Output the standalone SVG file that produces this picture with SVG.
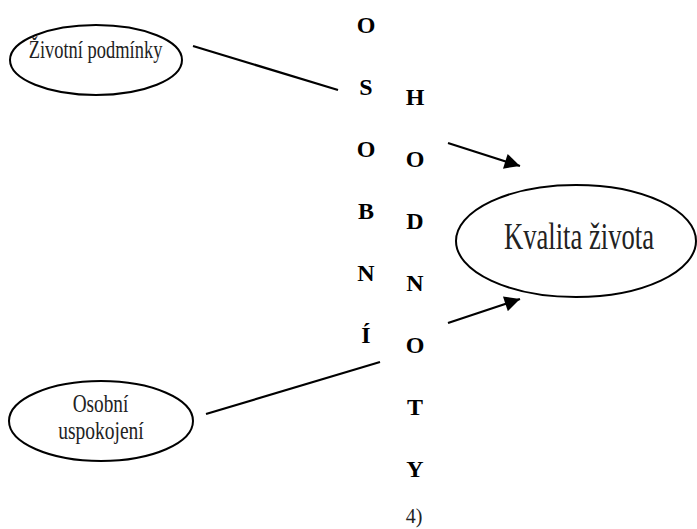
<svg xmlns="http://www.w3.org/2000/svg" width="697" height="529" viewBox="0 0 697 529">
<style>
.node ellipse{fill:#fff;stroke:#000;stroke-width:2}
.lbl{font-family:"Liberation Serif","DejaVu Serif","Noto Serif",serif;fill:#222;text-anchor:middle}
.let{font-family:"Liberation Serif","DejaVu Serif","Noto Serif",serif;font-weight:bold;font-size:24px;fill:#000;text-anchor:middle}
.num{font-family:"Liberation Serif","DejaVu Serif","Noto Serif",serif;font-size:20px;fill:#222;text-anchor:middle}
.conn line{stroke:#000;stroke-width:2.2}
</style>
<defs>
<marker id="ah" viewBox="0 0 10 10" refX="10" refY="5" markerWidth="8" markerHeight="7" markerUnits="strokeWidth" orient="auto">
<path d="M0,0 L10,5 L0,10 z" fill="#000"/>
</marker>
</defs>
<rect width="697" height="529" fill="#fff"/>
<g id="n-zivotni-podminky" class="node">
<ellipse cx="96" cy="60" rx="86" ry="35"/>
<text class="lbl" transform="translate(95.5,58) scale(0.71,1)" font-size="26">Životní podmínky</text>
</g>
<g id="n-osobni-uspokojeni" class="node">
<ellipse cx="101" cy="421" rx="92" ry="40"/>
<text class="lbl" transform="translate(100.5,412) scale(0.77,1)" font-size="25">Osobní</text>
<text class="lbl" transform="translate(101,439) scale(0.78,1)" font-size="25">uspokojení</text>
</g>
<g id="n-kvalita-zivota" class="node">
<ellipse cx="576" cy="241" rx="120" ry="56"/>
<text class="lbl" transform="translate(579,249) scale(0.72,1)" font-size="37">Kvalita života</text>
</g>
<g id="n-osobni-col">
<text class="let" x="366" y="33">O</text>
<text class="let" x="366" y="95">S</text>
<text class="let" x="366" y="157">O</text>
<text class="let" x="366" y="219">B</text>
<text class="let" x="366" y="281">N</text>
<text class="let" x="366" y="343">Í</text>
</g>
<g id="n-hodnoty-col">
<text class="let" x="415" y="105">H</text>
<text class="let" x="415" y="167">O</text>
<text class="let" x="415" y="229">D</text>
<text class="let" x="415" y="291">N</text>
<text class="let" x="415" y="353">O</text>
<text class="let" x="415" y="415">T</text>
<text class="let" x="415" y="477">Y</text>
<text class="num" x="414" y="523">4)</text>
</g>
<g id="connectors" class="conn">
<line x1="193" y1="46" x2="338" y2="90"/>
<line x1="206" y1="414" x2="380" y2="362"/>
<line x1="448" y1="143" x2="520" y2="166" marker-end="url(#ah)"/>
<line x1="448" y1="323" x2="520" y2="299" marker-end="url(#ah)"/>
</g>
</svg>
